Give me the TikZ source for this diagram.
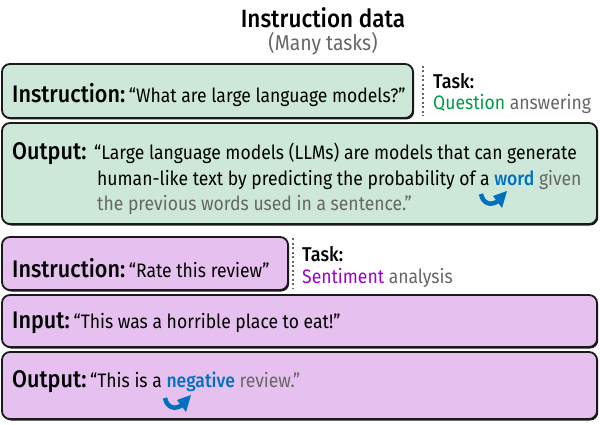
\documentclass[tikz,border=0pt]{standalone}
\usepackage{fontspec}
\setmainfont{Fira Sans}[FakeStretch=0.9,BoldFont={Fira Sans Medium}]
\definecolor{gfill}{HTML}{CDE8D8}
\definecolor{pfill}{HTML}{E6C0EE}
\definecolor{gtxt}{HTML}{009A44}
\definecolor{ptxt}{HTML}{9B00D0}
\definecolor{btxt}{HTML}{0070C0}
\definecolor{graytxt}{HTML}{666666}
\definecolor{edge}{HTML}{1A1A1A}
\tikzset{
  x=1pt,y=1pt,
  box/.style={draw=edge,line width=1.8pt,rounded corners=8pt},
  shadowbox/.style={fill=edge,rounded corners=8pt},
  lbl/.style={anchor=base west,inner sep=0pt,font=\fontsize{24}{26}\selectfont\bfseries},
  txt/.style={anchor=base west,inner sep=0pt,font=\fontsize{19.5}{21}\selectfont},
  tasklbl/.style={anchor=base west,inner sep=0pt,font=\fontsize{20}{22}\selectfont\bfseries},
  dotline/.style={draw=graytxt,line width=1.8pt,dash pattern=on 2pt off 2.5pt},
  hooktail/.style={draw=btxt,line width=4.5pt},
  hookhead/.style={fill=btxt}
}
\newcommand{\mybox}[5]{%
  \fill[shadowbox] (#1+1.2,#2-1.5) rectangle (#3+1.2,#4-1.5);
  \draw[box,fill=#5] (#1,#2) rectangle (#3,#4);}
% hook arrow with tail start at (#1,#2)
\newcommand{\hookarrow}[2]{%
  \begin{scope}[shift={(#1,#2)}]
    \draw[hooktail] (0,0) .. controls (2,-10) and (10,-12) .. (17,-7);
    \fill[hookhead] (26,3) -- (12,-2) -- (21,-14) -- cycle;
  \end{scope}}
\begin{document}
\begin{tikzpicture}
\useasboundingbox (0,0) rectangle (600,424);
% title
\node[inner sep=0pt,font=\fontsize{25}{27}\selectfont\bfseries] (title) at (323,406) {Instruction data};
\node[inner sep=0pt,font=\fontsize{21.5}{23}\selectfont,text=graytxt] (sub) at (323,380) {(Many tasks)};
% green boxes
\mybox{2}{306}{413}{360}{gfill}
\mybox{2}{200}{597}{301}{gfill}
\node[lbl] (i1) at (12,321) {Instruction:};
\node[txt,anchor=base west] (q1) at (i1.base east) {\,“What are large language models?”};
\draw[dotline] (423,358) -- (423,308);
\node[tasklbl] (t1) at (433,335) {Task:};
\node[txt] (t1b) at (433,314) {\textcolor{gtxt}{Question} \textcolor{graytxt}{answering}};
\node[lbl] (o1) at (12,265) {Output:};
\node[txt] (l1) at (94,265) {“Large language models (LLMs) are models that can generate};
\node[txt] (l2) at (97,239) {human-like text by predicting the probability of a \textcolor{btxt}{\bfseries word} \textcolor{graytxt}{given}};
\node[txt,text=graytxt] (l3) at (97,214) {the previous words used in a sentence.”};
\hookarrow{481}{230}
% purple boxes
\mybox{2}{134}{288}{187}{pfill}
\mybox{2}{77}{597}{129}{pfill}
\mybox{2}{5}{597}{72}{pfill}
\node[lbl] (i2) at (12,147) {Instruction:};
\node[txt,anchor=base west] (q2) at (i2.base east) {\,“Rate this review”};
\draw[dotline] (293,186) -- (293,136);
\node[tasklbl] (t2) at (302,163) {Task:};
\node[txt] (t2b) at (302,141) {\textcolor{ptxt}{Sentiment} \textcolor{graytxt}{analysis}};
\node[lbl] (in) at (12,96) {Input:};
\node[txt,anchor=base west] (q3) at (in.base east) {\,“This was a horrible place to eat!”};
\node[lbl] (o2) at (12,37) {Output:};
\node[txt,anchor=base west] (q4) at (o2.base east) {\,“This is a \textcolor{btxt}{\bfseries negative} \textcolor{graytxt}{review.”}};
\hookarrow{165}{26}
\end{tikzpicture}
\end{document}
